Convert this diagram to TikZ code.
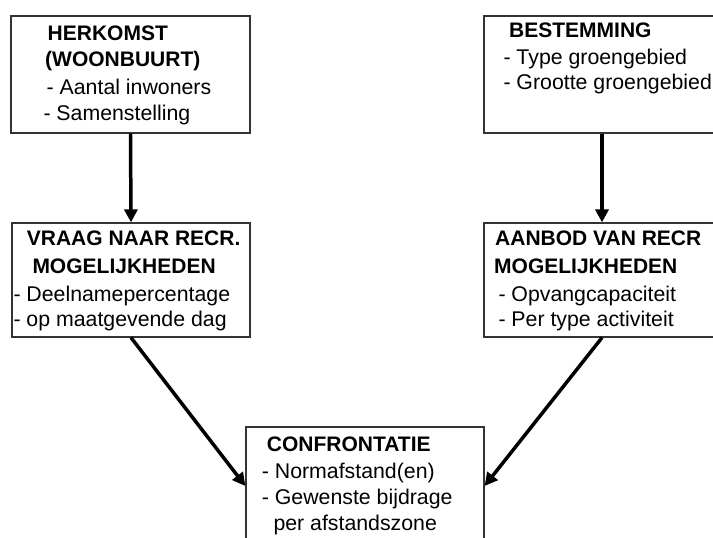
\documentclass[tikz,border=0pt]{standalone}
\usepackage{fontspec}
\setmainfont{Liberation Sans}
\usetikzlibrary{arrows.meta}
\begin{document}
\begin{tikzpicture}[x=1pt,y=-1pt,
  box/.style={draw=black!80,line width=1.2pt,rectangle,inner sep=0pt},
  txt/.style={anchor=base west,inner sep=0pt,font=\fontsize{21.3}{26}\selectfont},
  btxt/.style={txt,font=\fontsize{21}{26}\selectfont\bfseries},
  arr/.style={line width=3.5pt,-{Triangle[length=13pt,width=13pt]}}]
\useasboundingbox (0,0) rectangle (713,538);
\clip (0,0) rectangle (713,538);
\fill[white] (0,0) rectangle (713,538);
% boxes
\node[box,minimum width=239pt,minimum height=117pt] (b1) at (130.5,74.5) {};
\node[box,minimum width=236pt,minimum height=117pt] (b2) at (602,74.5) {};
\node[box,minimum width=238pt,minimum height=114pt] (b3) at (131,280) {};
\node[box,minimum width=236pt,minimum height=114pt] (b4) at (602,280) {};
\node[box,minimum width=238pt,minimum height=118pt] (b5) at (365,486) {};
% texts box 1
\node[btxt] (t11) at (47.5,40.7) {HERKOMST};
\node[btxt] (t12) at (45,66.7) {(WOONBUURT)};
\node[txt] (t13) at (46.5,94) {- Aantal inwoners};
\node[txt] (t14) at (43.3,120.7) {- Samenstelling};
% texts box 2
\node[btxt] (t21) at (509,37.7) {BESTEMMING};
\node[txt] (t22) at (503.3,64.3) {- Type groengebied};
\node[txt] (t23) at (503.3,89.3) {- Grootte groengebied};
% texts box 3
\node[btxt] (t31) at (26.7,245.7) {VRAAG NAAR RECR.};
\node[btxt] (t32) at (32.3,273.3) {MOGELIJKHEDEN};
\node[txt] (t33) at (13.3,301.7) {- Deelnamepercentage};
\node[txt] (t34) at (13.3,326.7) {- op maatgevende dag};
% texts box 4
\node[btxt] (t41) at (495,245.7) {AANBOD VAN RECR};
\node[btxt] (t42) at (494,273.3) {MOGELIJKHEDEN};
\node[txt] (t43) at (498.3,301.7) {- Opvangcapaciteit};
\node[txt] (t44) at (498.3,326.7) {- Per type activiteit};
% texts box 5
\node[btxt] (t51) at (266.7,451.7) {CONFRONTATIE};
\node[txt] (t52) at (261.7,478.3) {- Normafstand(en)};
\node[txt] (t53) at (261.7,504.3) {- Gewenste bijdrage};
\node[txt] (t54) at (273.3,530) {per afstandszone};
% arrows
\draw[arr] (b1.south) -- (b3.north);
\draw[arr] (b2.south) -- (b4.north);
\draw[arr] (b3.south) -- (b5.west);
\draw[arr] (b4.south) -- (b5.east);
\end{tikzpicture}
\end{document}
